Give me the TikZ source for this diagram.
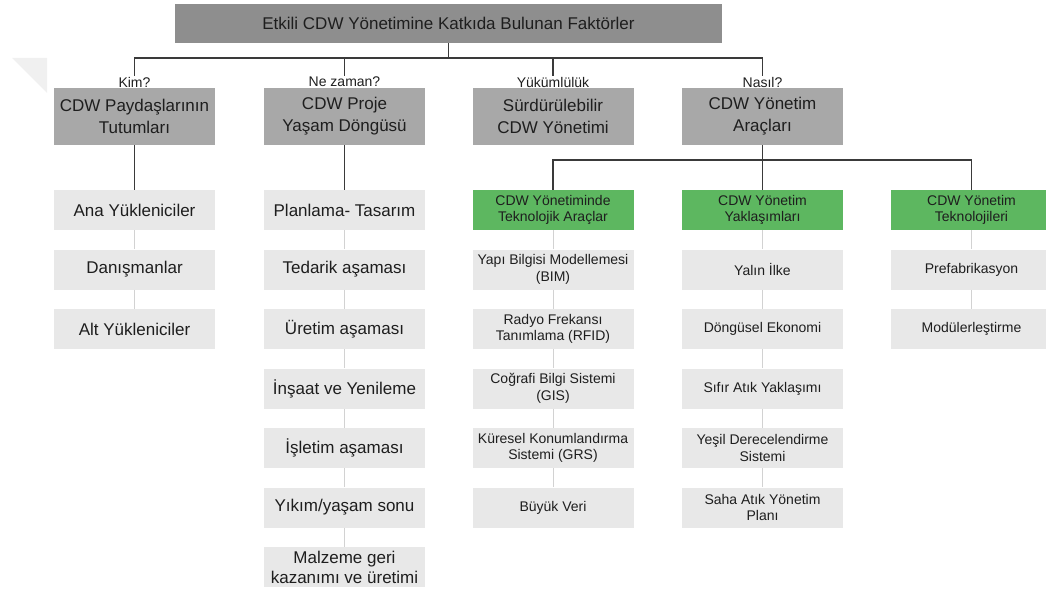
\documentclass[tikz,border=0pt]{standalone}
\usepackage{fontspec}
\setmainfont{Liberation Sans}
\definecolor{txt}{HTML}{1E1E1E}
\definecolor{topgray}{HTML}{8E8E8E}
\definecolor{catgray}{HTML}{A8A8A8}
\definecolor{itemgray}{HTML}{E8E8E8}
\definecolor{grn}{HTML}{5DB760}
\definecolor{linedark}{HTML}{3A3A3A}
\definecolor{linelight}{HTML}{D2D2D2}
\definecolor{markgray}{HTML}{F0F0F0}
\tikzset{
  box/.style={rectangle, inner sep=0pt, align=center, text=txt,
    font=\fontsize{17}{21}\selectfont},
  topbox/.style={box, fill=topgray, minimum width=547pt, minimum height=39pt},
  catbox/.style={box, fill=catgray, minimum width=161pt, minimum height=57pt,
    font=\fontsize{17}{22}\selectfont},
  itembox/.style={box, fill=itemgray, minimum width=161pt, minimum height=40pt},
  smallitem/.style={itembox, font=\fontsize{14}{16.5}\selectfont},
  greenbox/.style={box, fill=grn, minimum width=161pt, minimum height=40pt,
    font=\fontsize{14}{16}\selectfont},
  qlabel/.style={inner sep=1pt, text=txt, font=\fontsize{14}{16}\selectfont},
  mainline/.style={draw=linedark, line width=1.2pt},
  subline/.style={draw=linelight, line width=1pt},
}
\begin{document}
\begin{tikzpicture}[x=1pt, y=-1pt]
\useasboundingbox (0,0) rectangle (1046,594);

% faint corner mark
\fill[markgray] (12,58) -- (47,58) -- (47,93) -- cycle;

% bus levels
\coordinate (busA) at (0,58);
\coordinate (busB) at (0,160);

% title
\node[topbox] (top) at (448.5,23.5) {Etkili CDW Yönetimine Katkıda Bulunan Faktörler};

% questions
\node[qlabel] (qKim) at (134.5,82) {Kim?};
\node[qlabel] (qZaman) at (344.5,82) {Ne zaman?};
\node[qlabel] (qYuk) at (553,82) {Yükümlülük};
\node[qlabel] (qNasil) at (762.5,82) {Nasıl?};

% categories
\node[catbox] (cPay) at (134.5,116.5) {CDW Paydaşlarının\\Tutumları};
\node[catbox] (cProje) at (344.5,116.5) {CDW Proje\\Yaşam Döngüsü};
\node[catbox] (cSurd) at (553,116.5) {Sürdürülebilir\\CDW Yönetimi};
\node[catbox] (cArac) at (762.5,116.5) {CDW Yönetim\\Araçları};

% stakeholders
\node[itembox] (p1) at (134.5,210) {Ana Yükleniciler};
\node[itembox] (p2) at (134.5,269.5) {Danışmanlar};
\node[itembox] (p3) at (134.5,329) {Alt Yükleniciler};

% life cycle
\node[itembox] (y1) at (344.5,210) {Planlama- Tasarım};
\node[itembox] (y2) at (344.5,269.5) {Tedarik aşaması};
\node[itembox] (y3) at (344.5,329) {Üretim aşaması};
\node[itembox] (y4) at (344.5,388.5) {İnşaat ve Yenileme};
\node[itembox] (y5) at (344.5,448) {İşletim aşaması};
\node[itembox] (y6) at (344.5,507.5) {Yıkım/yaşam sonu};
\node[itembox, font=\fontsize{17}{20}\selectfont] (y7) at (344.5,567) {Malzeme geri\\kazanımı ve üretimi};

% tool groups
\node[greenbox] (g1) at (553,210) {CDW Yönetiminde\\Teknolojik Araçlar};
\node[greenbox] (g2) at (762.5,210) {CDW Yönetim\\Yaklaşımları};
\node[greenbox] (g3) at (971.5,210) {CDW Yönetim\\Teknolojileri};

\node[smallitem] (t1) at (553,269.5) {Yapı Bilgisi Modellemesi\\(BIM)};
\node[smallitem] (t2) at (553,329) {Radyo Frekansı\\Tanımlama (RFID)};
\node[smallitem] (t3) at (553,388.5) {Coğrafi Bilgi Sistemi\\(GIS)};
\node[smallitem] (t4) at (553,448) {Küresel Konumlandırma\\Sistemi (GRS)};
\node[smallitem] (t5) at (553,507.5) {Büyük Veri};

\node[smallitem] (a1) at (762.5,269.5) {Yalın İlke};
\node[smallitem] (a2) at (762.5,329) {Döngüsel Ekonomi};
\node[smallitem] (a3) at (762.5,388.5) {Sıfır Atık Yaklaşımı};
\node[smallitem] (a4) at (762.5,448) {Yeşil Derecelendirme\\Sistemi};
\node[smallitem] (a5) at (762.5,507.5) {Saha Atık Yönetim\\Planı};

\node[smallitem] (m1) at (971.5,269.5) {Prefabrikasyon};
\node[smallitem] (m2) at (971.5,329) {Modülerleştirme};

% main connectors
\path[mainline] (top.south) -- (top.south |- busA) -| (qKim.north);
\path[mainline] (top.south |- busA) -| (qZaman.north);
\path[mainline] (top.south |- busA) -| (qYuk.north);
\path[mainline] (top.south |- busA) -| (qNasil.north);
\path[mainline] (cPay.south) -- (p1.north);
\path[mainline] (cProje.south) -- (y1.north);
\path[mainline] (cArac.south) -- (g2.north);
\path[mainline] (cArac.south |- busB) -| (g1.north);
\path[mainline] (cArac.south |- busB) -| (g3.north);

% item chains
\foreach \a/\b in {p1/p2,p2/p3,y1/y2,y2/y3,y3/y4,y4/y5,y5/y6,y6/y7,
  g1/t1,t1/t2,t2/t3,t3/t4,t4/t5,g2/a1,a1/a2,a2/a3,a3/a4,a4/a5,g3/m1,m1/m2}
  \path[subline] (\a.south) -- (\b.north);
\end{tikzpicture}
\end{document}
